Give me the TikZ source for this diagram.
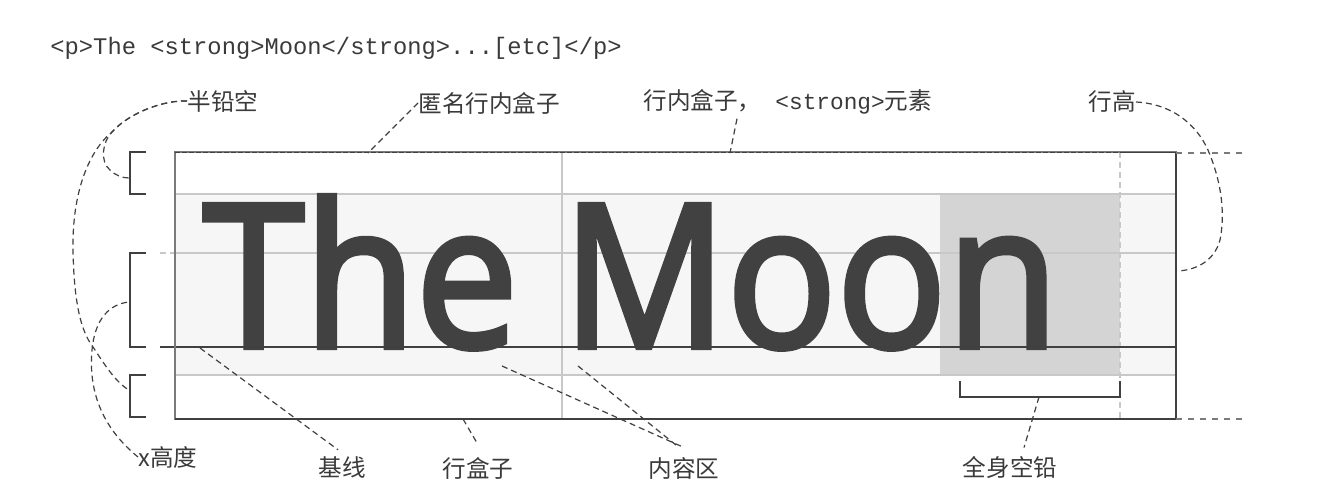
\documentclass[tikz,border=0pt]{standalone}
\usepackage{fontspec}
\setmainfont{Liberation Serif}
\newfontfamily\cjk{Noto Sans CJK SC}
\newfontfamily\bigsans{Open Sans}[FakeBold=3]
\newfontfamily\mono{Liberation Mono}
\definecolor{labelgray}{HTML}{3A3A3A}
\definecolor{conngray}{HTML}{404040}
\definecolor{textdark}{HTML}{414141}
\definecolor{bandgray}{HTML}{F6F6F6}
\definecolor{emgray}{HTML}{D4D4D4}
\definecolor{guidegray}{HTML}{C8C8C8}
\definecolor{boxgray}{HTML}{7A7A7A}
\tikzset{
  lbl/.style={font=\cjk\fontsize{11.8}{13}\selectfont, text=labelgray, inner sep=0pt},
  conn/.style={draw=conngray, line width=0.6pt, dash pattern=on 3pt off 2pt},
  brk/.style={draw=conngray, line width=0.8pt},
  guide/.style={draw=guidegray, line width=0.6pt},
  boxln/.style={draw=boxgray, line width=0.7pt},
  baseln/.style={draw=conngray, line width=0.8pt},
  extln/.style={draw=boxgray, line width=0.6pt, dash pattern=on 3pt off 3pt},
  bigtxt/.style={font=\bigsans\fontsize{99.5}{100}\selectfont, text=textdark, inner sep=0pt, anchor=base west, xscale=0.915}
}
\begin{document}
\begin{tikzpicture}[x=0.5pt,y=-0.5pt]
\useasboundingbox (0,0) rectangle (1322,503);
\fill[white] (0,0) rectangle (1322,503);

% title
\node[font=\mono\fontsize{11.9}{13}\selectfont, text=labelgray, inner sep=0pt, anchor=west] (title) at (50,48) {<p>The <strong>Moon</strong>...[etc]</p>};

% content band and em box
\fill[bandgray] (175,194) rectangle (1176,375);
\fill[emgray] (940,195) rectangle (1120,376);

% guides
\draw[guide] (175,194) -- (1176,194);
\draw[guide] (175,253) -- (1176,253);
\draw[guide, dash pattern=on 3pt off 2pt] (160,253) -- (175,253);
\draw[guide] (175,375) -- (1176,375);
\draw[guide] (562,152) -- (562,419);
\draw[guide, dash pattern=on 3pt off 2pt] (1120,152) -- (1120,419);

% big text
\node[bigtxt] (the) at (203,347) {The};
\node[bigtxt] (moon) at (562,347) {Moon};

% baseline
\draw[baseln] (160,347) -- (1176,347);

% line box
\draw[boxln] (175,152) rectangle (1176,419);
\draw[draw=conngray, line width=0.7pt, dash pattern=on 2.5pt off 1pt] (175,152.5) -- (1120,152.5);
\draw[conngray, line width=0.9pt] (1120,152.5) -- (1176,152.5) -- (1176,419) -- (175,419);
\draw[extln] (1176,153) -- (1245,153);
\draw[extln] (1176,419) -- (1245,419);

% left brackets
\draw[brk] (146,152) -- (130,152) -- (130,194) -- (146,194);
\draw[brk] (146,253) -- (130,253) -- (130,347) -- (146,347);
\draw[brk] (146,375) -- (130,375) -- (130,417) -- (146,417);
\coordinate (b1) at (129,178);
\coordinate (b2) at (129,302);
\coordinate (b3) at (129,390);
% bottom bracket
\draw[brk] (960,381) -- (960,397) -- (1120,397) -- (1120,381);
\coordinate (b4) at (1039,397);

% labels
\node[lbl, anchor=west] (bq) at (187,101) {半铅空};
\node[lbl, anchor=west] (anon) at (418,103) {匿名行内盒子};
\node[lbl, anchor=west] (inl) at (643,102) {行内盒子，\hspace{7pt}{\mono\fontsize{11.4}{12}\selectfont<strong>}元素};
\node[lbl, anchor=west] (lh) at (1088,102) {行高};
\node[lbl, anchor=west] (xh) at (138,457) {x高度};
\node[lbl] (jx) at (342,467) {基线};
\node[lbl] (hb) at (478,468) {行盒子};
\node[lbl] (nr) at (684,468) {内容区};
\node[lbl] (qs) at (1010,467) {全身空铅};

% connector anchor points
\coordinate (c_anon) at (368,153);
\coordinate (c_inl) at (730,153);
\coordinate (c_lh) at (1178,271);
\coordinate (c_bl) at (200,348);
\coordinate (c_hb) at (463,419);
\coordinate (c_nr1) at (502,366);
\coordinate (c_nr2) at (578,366);
\coordinate (split) at (112,132);

% connectors
\draw[conn] (bq.west) .. controls (165,100) and (130,112) .. (split) .. controls (102,142) and (100,162) .. (110,170) .. controls (115,175) and (122,178) .. (b1);
\draw[conn] (bq.west) .. controls (165,100) and (130,112) .. (split) .. controls (90,150) and (72,190) .. (73,250) .. controls (74,300) and (80,330) .. (93,347) .. controls (103,362) and (115,382) .. (b3);
\draw[conn] (xh.west) .. controls (105,430) and (88,395) .. (92,350) .. controls (95,318) and (110,304) .. (b2);
\draw[conn] (anon.west) -- (c_anon);
\draw[conn] ([xshift=47pt,yshift=-2pt]inl.south west) -- (c_inl);
\draw[conn] (lh.east) .. controls (1175,104) and (1200,128) .. (1210,155) .. controls (1222,185) and (1225,215) .. (1220,240) .. controls (1214,262) and (1195,270) .. (c_lh);
\draw[conn] (c_bl) -- ([xshift=-2pt,yshift=3pt]jx.north);
\draw[conn] (c_hb) -- ([yshift=6pt]hb.north);
\draw[conn] (c_nr1) -- ([xshift=-1pt,yshift=5pt]nr.north);
\draw[conn] (c_nr2) -- ([xshift=-3pt,yshift=5pt]nr.north);
\draw[conn] (b4) -- ([xshift=7pt,yshift=4pt]qs.north);
\end{tikzpicture}
\end{document}
